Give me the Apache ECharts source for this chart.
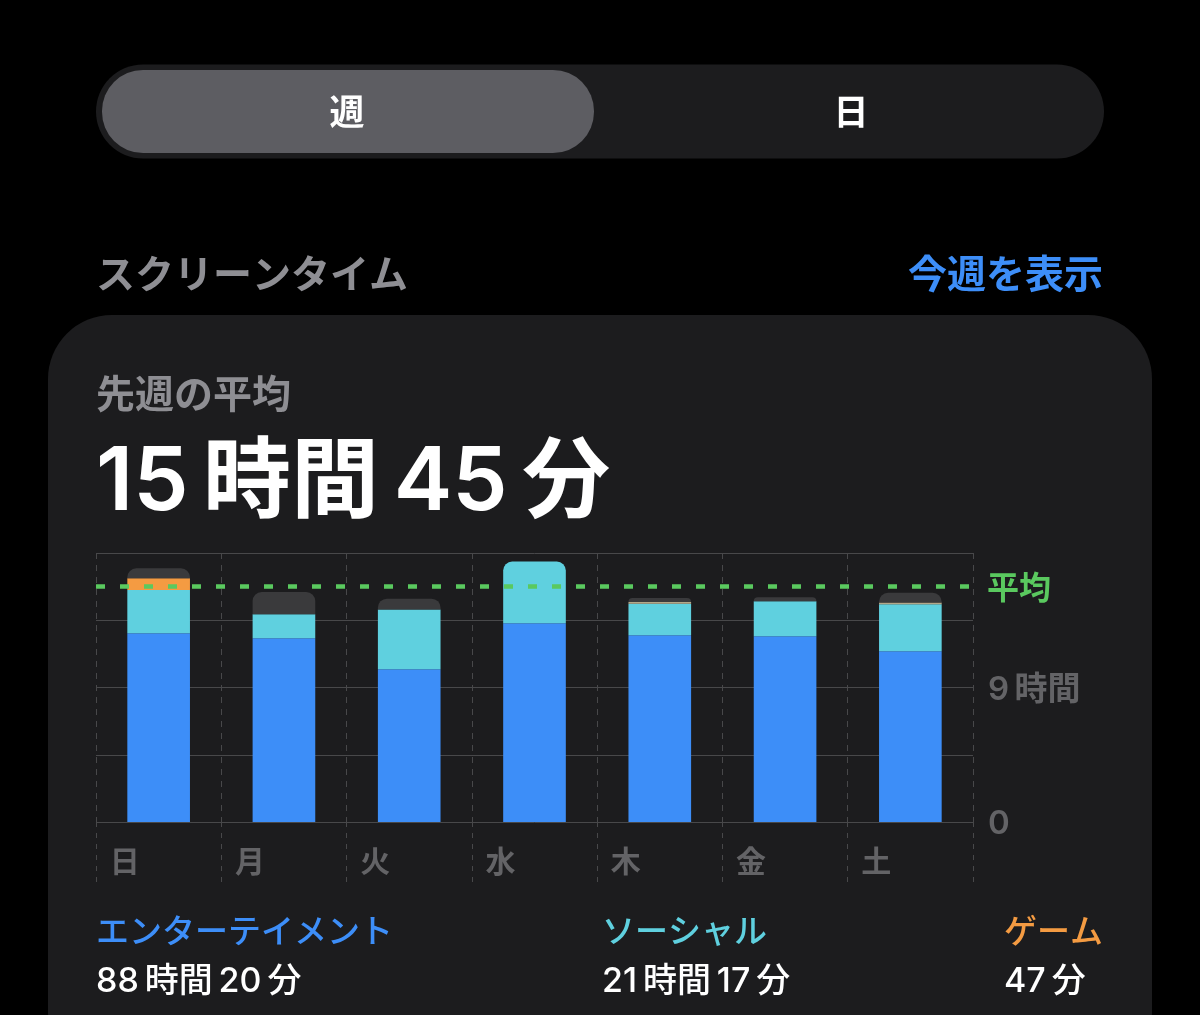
<!DOCTYPE html>
<html>
<head>
<meta charset="utf-8">
<script src="https://cdn.jsdelivr.net/npm/echarts@6/dist/echarts.min.js"></script>
<style>
  html, body { margin: 0; padding: 0; background: #000; }
  #main { width: 1200px; height: 1015px; }
</style>
</head>
<body>
<div id="main"></div>
<script>
const days = ['日', '月', '火', '水', '木', '金', '土']
// hours per day
const entertainment = [12.63, 12.3, 10.22, 13.3, 12.5, 12.43, 11.43]
const social = [2.9, 1.6, 4.0, 4.13, 2.1, 2.34, 3.14]
const game = [0.78, 0, 0, 0, 0.12, 0, 0.12]
const other = [0.67, 1.49, 0.72, 0, 0.27, 0.27, 0.65]
const average = 15.75

const legendNames = ['エンターテイメント', 'ソーシャル', 'ゲーム']
const legendTimes = ['88\u2009時間\u200920\u2009分', '21\u2009時間\u200917\u2009分', '47\u2009分']
const legendX = [96, 602, 1004]

// Inter picks up the digits, the kana and kanji fall through to Noto
const FONT = 'Inter, "Noto Sans CJK JP", sans-serif'
const BLUE = '#3d8ef8'
const CYAN = '#5fd0df'
const ORANGE = '#f49b42'
const THIN_ORANGE = '#b3a88a' // the hairline segments look washed out in the screenshot
const GRAY = '#3a3a3c'
const GREEN = '#5ac95f'
const CARD = '#1c1c1e'
const LINE = '#48484a'
const MUTED = '#636366'

// only the top segment of each bar gets rounded corners
const roundTop = (vals, above) => vals.map((v, i) => {
  const isTop = above.every(a => !a[i])
  return isTop ? { value: v, itemStyle: { borderRadius: [9, 9, 0, 0] } } : v
})

const text = (x, y, str, size, color, weight, align) => ({
  type: 'text',
  x: x,
  y: y,
  z: 10,
  style: {
    text: str,
    fontFamily: FONT,
    fontSize: size,
    fontWeight: weight || 500,
    fill: color,
    align: align || 'left',
    verticalAlign: 'middle'
  }
})

const graphics = [
  // segmented control
  { type: 'rect', z: -2, shape: { x: 96, y: 64.5, width: 1008, height: 94, r: 47 }, style: { fill: CARD } },
  { type: 'rect', z: -1, shape: { x: 102, y: 70, width: 492, height: 83, r: 41 }, style: { fill: '#5d5d62' } },
  text(347, 114, '週', 35, '#fff', 600, 'center'),
  text(851, 114, '日', 35, '#fff', 600, 'center'),
  // header row
  text(96, 276, 'スクリーンタイム', 39, '#8e8e93', 700),
  text(1103, 276, '今週を表示', 39, '#3d8ef8', 700, 'right'),
  // card
  { type: 'rect', z: -2, shape: { x: 48, y: 315, width: 1104, height: 760, r: 64 }, style: { fill: CARD } },
  text(96, 396, '先週の平均', 39, '#8e8e93', 700),
  text(96, 484, '15\u2009時間\u200945\u2009分', 88, '#fff', 600)
]

legendNames.forEach((name, i) => {
  const colors = [BLUE, CYAN, ORANGE]
  graphics.push(text(legendX[i], 933, name, 33, colors[i], 500))
  graphics.push(text(legendX[i], 982, legendTimes[i], 34, '#fff', 500))
})

const chart = echarts.init(document.getElementById('main'))

chart.setOption({
  backgroundColor: '#000',
  animation: false,
  textStyle: { fontFamily: FONT },
  graphic: graphics,
  grid: { left: 96, right: 227, top: 553, height: 269 },
  xAxis: {
    type: 'category',
    data: days,
    axisLine: { show: false },
    axisTick: { show: true, length: 60, interval: 0, lineStyle: { color: LINE, type: [5, 6] } },
    splitLine: { show: true, interval: 0, lineStyle: { color: LINE, type: [6, 6] } },
    axisLabel: {
      interval: 0,
      color: MUTED,
      fontSize: 30,
      fontWeight: 700,
      fontFamily: FONT,
      align: 'right',
      padding: [0, 19, 0, 0],
      margin: 26
    }
  },
  yAxis: {
    type: 'value',
    position: 'right',
    min: 0,
    max: 18,
    interval: 4.5,
    axisLine: { show: false },
    axisTick: { show: false },
    splitLine: { lineStyle: { color: LINE, width: 1 } },
    axisLabel: {
      margin: 15,
      formatter: v => (v === 0 ? '{a|0}' : v === 9 ? '{a|9\u2009時間}' : ''),
      rich: {
        a: { color: MUTED, fontSize: 33, fontWeight: 600, fontFamily: FONT, padding: [5, 0, 0, 0] }
      }
    }
  },
  series: [
    { name: 'エンターテイメント', type: 'bar', stack: 'day', barWidth: '50%', data: entertainment, itemStyle: { color: BLUE } },
    { name: 'ソーシャル', type: 'bar', stack: 'day', data: roundTop(social, [game, other]), itemStyle: { color: CYAN } },
    {
      name: 'ゲーム',
      type: 'bar',
      stack: 'day',
      data: game.map(v => (v > 0 && v < 0.5 ? { value: v, itemStyle: { color: THIN_ORANGE } } : v)),
      itemStyle: { color: ORANGE }
    },
    {
      name: 'その他',
      type: 'bar',
      stack: 'day',
      data: roundTop(other, []),
      itemStyle: { color: GRAY },
      markLine: {
        silent: true,
        symbol: 'none',
        lineStyle: { color: GREEN, width: 4.5, type: [9, 15] },
        label: {
          position: 'end',
          distance: 14,
          formatter: '{a|平均}',
          rich: {
            a: { color: GREEN, fontSize: 32, fontWeight: 700, fontFamily: FONT, padding: [5, 0, 0, 0] }
          }
        },
        data: [{ yAxis: average }]
      }
    }
  ]
})
</script>
</body>
</html>
